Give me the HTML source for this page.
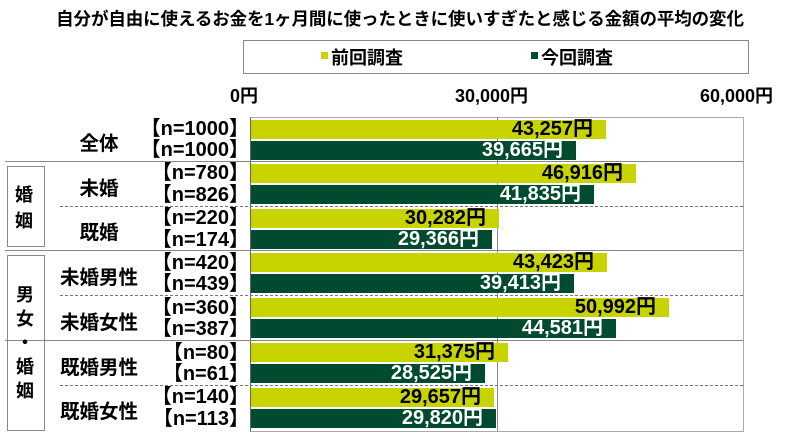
<!DOCTYPE html>
<html><head><meta charset="utf-8"><style>
body{margin:0;width:800px;height:441px;background:#fff;position:relative;overflow:hidden;font-family:"Liberation Sans","Noto Sans CJK JP",sans-serif;font-weight:bold;color:#000}
.a{position:absolute;white-space:nowrap}
.bar{position:absolute;height:19px}
.l{background:#c8d400}.d{background:#004a2f}
.v{position:absolute;font-size:20px;line-height:19px;text-align:right;white-space:nowrap}
.n{position:absolute;right:551px;font-size:20px;line-height:20px;white-space:nowrap}
.c{position:absolute;width:110px;left:44px;text-align:center;font-size:19.5px}
.hl{position:absolute;height:0;border-top:1.5px solid #888}
.dl{position:absolute;height:0;border-top:1.5px dashed #777}
</style></head><body>
<div class="a" style="left:0;width:800px;text-align:center;top:6px;font-size:17.5px;letter-spacing:-0.1px">自分が自由に使えるお金を1ヶ月間に使ったときに使いすぎたと感じる金額の平均の変化</div>
<div class="a" style="left:243px;top:40px;width:504px;height:32px;border:1.5px solid #888"></div>
<div class="a" style="left:321px;top:52px;width:7px;height:7px;background:#c8d400"></div>
<div class="a" style="left:331px;top:44px;font-size:18px">前回調査</div>
<div class="a" style="left:531px;top:52px;width:7px;height:7px;background:#004a2f"></div>
<div class="a" style="left:541px;top:44px;font-size:18px">今回調査</div>
<div class="a" style="left:230px;top:82px;font-size:18px">0円</div>
<div class="a" style="left:455px;top:82px;font-size:18px">30,000円</div>
<div class="a" style="left:700px;top:82px;font-size:18px">60,000円</div>
<div class="a" style="left:250px;top:117px;width:492px;height:313px;border:1.5px solid #aaa;border-left:1.5px solid #666"></div>
<div class="a" style="left:497px;top:117px;width:0;height:314px;border-left:1.5px solid #888"></div>
<div class="hl" style="left:5px;top:161px;width:738px"></div>
<div class="hl" style="left:5px;top:250px;width:738px"></div>
<div class="hl" style="left:5px;top:340px;width:738px"></div>
<div class="dl" style="left:60px;top:206px;width:683px"></div>
<div class="dl" style="left:60px;top:295px;width:683px"></div>
<div class="dl" style="left:60px;top:385px;width:683px"></div>
<div class="a" style="left:7px;top:166px;width:36px;height:79px;border:1.5px solid #888"></div>
<div class="a" style="left:7px;top:255px;width:36px;height:174px;border:1.5px solid #888"></div>
<div class="a" style="left:15px;top:182px;font-size:18px;line-height:26px;width:20px">婚<br>姻</div>
<div class="a" style="left:15px;top:283px;font-size:18px;line-height:24px;width:20px;text-align:center">男<br>女<br>・<br>婚<br>姻</div>

<div class="c" style="top:127px">全体</div>
<div class="c" style="top:172px">未婚</div>
<div class="c" style="top:216px">既婚</div>
<div class="c" style="top:261px">未婚男性</div>
<div class="c" style="top:306px">未婚女性</div>
<div class="c" style="top:351px">既婚男性</div>
<div class="c" style="top:395px">既婚女性</div>

<div class="n" style="top:119px">【n=1000】</div><div class="n" style="top:140px">【n=1000】</div>
<div class="n" style="top:163px">【n=780】</div><div class="n" style="top:185px">【n=826】</div>
<div class="n" style="top:208px">【n=220】</div><div class="n" style="top:230px">【n=174】</div>
<div class="n" style="top:253px">【n=420】</div><div class="n" style="top:274px">【n=439】</div>
<div class="n" style="top:298px">【n=360】</div><div class="n" style="top:319px">【n=387】</div>
<div class="n" style="top:343px">【n=80】</div><div class="n" style="top:364px">【n=61】</div>
<div class="n" style="top:387px">【n=140】</div><div class="n" style="top:409px">【n=113】</div>

<div class="bar l" style="left:251px;top:120px;width:355px"></div><div class="v" style="left:251px;width:342px;top:120px">43,257円</div>
<div class="bar d" style="left:251px;top:141px;width:325px"></div><div class="v" style="left:251px;width:312px;top:141px;color:#fff">39,665円</div>
<div class="bar l" style="left:251px;top:164px;width:385px"></div><div class="v" style="left:251px;width:372px;top:164px">46,916円</div>
<div class="bar d" style="left:251px;top:185px;width:343px"></div><div class="v" style="left:251px;width:330px;top:185px;color:#fff">41,835円</div>
<div class="bar l" style="left:251px;top:209px;width:248px"></div><div class="v" style="left:251px;width:235px;top:209px">30,282円</div>
<div class="bar d" style="left:251px;top:230px;width:241px"></div><div class="v" style="left:251px;width:228px;top:230px;color:#fff">29,366円</div>
<div class="bar l" style="left:251px;top:253px;width:356px"></div><div class="v" style="left:251px;width:343px;top:253px">43,423円</div>
<div class="bar d" style="left:251px;top:274px;width:323px"></div><div class="v" style="left:251px;width:310px;top:274px;color:#fff">39,413円</div>
<div class="bar l" style="left:251px;top:298px;width:418px"></div><div class="v" style="left:251px;width:405px;top:298px">50,992円</div>
<div class="bar d" style="left:251px;top:319px;width:365px"></div><div class="v" style="left:251px;width:352px;top:319px;color:#fff">44,581円</div>
<div class="bar l" style="left:251px;top:343px;width:257px"></div><div class="v" style="left:251px;width:244px;top:343px">31,375円</div>
<div class="bar d" style="left:251px;top:364px;width:234px"></div><div class="v" style="left:251px;width:221px;top:364px;color:#fff">28,525円</div>
<div class="bar l" style="left:251px;top:388px;width:243px"></div><div class="v" style="left:251px;width:230px;top:388px">29,657円</div>
<div class="bar d" style="left:251px;top:409px;width:245px"></div><div class="v" style="left:251px;width:232px;top:409px;color:#fff">29,820円</div>
</body></html>
